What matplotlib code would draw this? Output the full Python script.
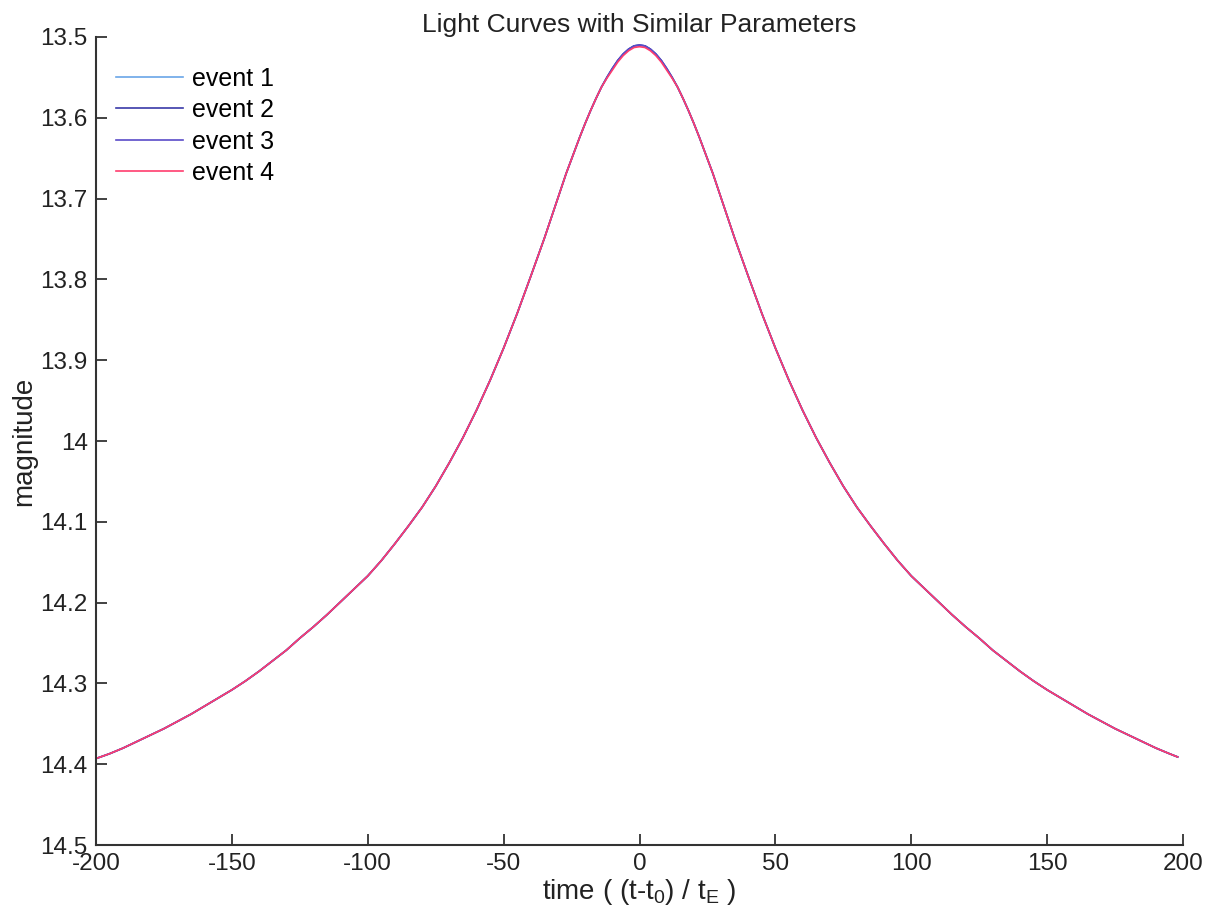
import matplotlib
matplotlib.use('Agg')
import matplotlib.pyplot as plt

plt.rcParams['font.family'] = ['Liberation Sans', 'DejaVu Sans']
plt.rcParams['mathtext.default'] = 'regular'
plt.rcParams['axes.unicode_minus'] = False

# time axis ((t-t0)/tE) and magnitudes
time = [-200, -195, -190, -185, -180, -175, -170, -165, -160, -155, -150,
        -145, -140, -135, -130, -125, -120, -115, -110, -105, -100, -95,
        -90, -85, -80, -75, -70, -65, -60, -55, -50, -45, -40, -35,
        -33, -30, -27, -25, -22,
        -20, -18, -16, -14, -12, -10, -8, -6, -4, -2,
        0,
        2, 4, 6, 8, 10, 12, 14, 16, 18, 20,
        22, 25, 27, 30, 33,
        35, 40, 45, 50, 55, 60, 65, 70, 75, 80, 85, 90, 95, 100, 105, 110,
        115, 120, 125, 130, 135, 140, 145, 150, 155, 160, 165, 170, 175,
        180, 185, 190, 195, 198]

# events 1-3 lie on top of each other, event 4 sits a hair lower at the peak
mag_blue = [14.393, 14.387, 14.380, 14.372, 14.364, 14.356, 14.347, 14.338,
            14.328, 14.318, 14.308, 14.297, 14.285, 14.272, 14.259, 14.244,
            14.230, 14.215, 14.199, 14.183, 14.167, 14.148, 14.127, 14.105,
            14.082, 14.056, 14.027, 13.996, 13.962, 13.925, 13.885, 13.842,
            13.796, 13.749,
            13.729, 13.699, 13.669, 13.651, 13.624,
            13.607, 13.591, 13.576, 13.562, 13.550, 13.539, 13.529, 13.521,
            13.515, 13.511,
            13.510,
            13.511, 13.515, 13.521, 13.529, 13.539, 13.550, 13.562, 13.576,
            13.591, 13.607,
            13.624, 13.651, 13.669, 13.699, 13.729,
            13.749, 13.796, 13.842, 13.885, 13.925, 13.962, 13.996, 14.027,
            14.056, 14.082, 14.105, 14.127, 14.148, 14.167, 14.183, 14.199,
            14.215, 14.230, 14.244, 14.259, 14.272, 14.285, 14.297, 14.308,
            14.318, 14.328, 14.338, 14.347, 14.356, 14.364, 14.372, 14.380,
            14.387, 14.391]
mag_red = [14.393, 14.387, 14.380, 14.372, 14.364, 14.356, 14.347, 14.338,
           14.328, 14.318, 14.308, 14.297, 14.285, 14.272, 14.259, 14.244,
           14.230, 14.215, 14.199, 14.183, 14.167, 14.148, 14.127, 14.105,
           14.082, 14.056, 14.027, 13.996, 13.962, 13.925, 13.885, 13.842,
           13.796, 13.749,
           13.729, 13.699, 13.669, 13.651, 13.624,
           13.607, 13.591, 13.576, 13.562, 13.551, 13.541, 13.531, 13.523,
           13.517, 13.513,
           13.512,
           13.513, 13.517, 13.523, 13.531, 13.541, 13.551, 13.562, 13.576,
           13.591, 13.607,
           13.624, 13.651, 13.669, 13.699, 13.729,
           13.749, 13.796, 13.842, 13.885, 13.925, 13.962, 13.996, 14.027,
           14.056, 14.082, 14.105, 14.127, 14.148, 14.167, 14.183, 14.199,
           14.215, 14.230, 14.244, 14.259, 14.272, 14.285, 14.297, 14.308,
           14.318, 14.328, 14.338, 14.347, 14.356, 14.364, 14.372, 14.380,
           14.387, 14.391]

event_data = [mag_blue, mag_blue, mag_blue, mag_red]
labels = ['event 1', 'event 2', 'event 3', 'event 4']
colors = ['#6aa6e8', '#3a3aa8', '#5a4cc8', '#ff3d6e']
xticks = [-200, -150, -100, -50, 0, 50, 100, 150, 200]
yticks = [13.5, 13.6, 13.7, 13.8, 13.9, 14, 14.1, 14.2, 14.3, 14.4, 14.5]
yticklabels = ['13.5', '13.6', '13.7', '13.8', '13.9', '14', '14.1', '14.2',
               '14.3', '14.4', '14.5']

fig = plt.figure(figsize=(12.15, 9.18), dpi=100)
ax = fig.add_axes([0.079, 0.0795, 0.8947, 0.8802])

for ys, lab, col in zip(event_data, labels, colors):
    ax.plot(time, ys, color=col, linewidth=1.2, label=lab)

ax.set_xlim(-200, 200)
ax.set_ylim(14.5, 13.5)
ax.set_xticks(xticks)
ax.set_yticks(yticks)
ax.set_yticklabels(yticklabels)

for side in ['top', 'right']:
    ax.spines[side].set_visible(False)
for side in ['left', 'bottom']:
    ax.spines[side].set_color('#333333')
    ax.spines[side].set_linewidth(1.5)
ax.tick_params(direction='in', length=8, width=1.3, color='#333333',
               labelsize=17.5, labelcolor='#222222')
ax.tick_params(axis='x', pad=6)
ax.tick_params(axis='y', pad=6)

ax.set_title('Light Curves with Similar Parameters', fontsize=19,
             color='#222222', pad=3)
ax.set_xlabel('time ( (t-t$_0$) / t$_E$ )', fontsize=20, color='#222222',
              labelpad=1)
ax.set_ylabel('magnitude', fontsize=20, color='#222222', labelpad=2)

ax.legend(loc='upper left', frameon=False, fontsize=18, handlelength=2.7,
          handletextpad=0.36, labelspacing=0.3, borderaxespad=0.3,
          bbox_to_anchor=(0.002, 0.985))

fig.savefig('out.png', dpi=100)
